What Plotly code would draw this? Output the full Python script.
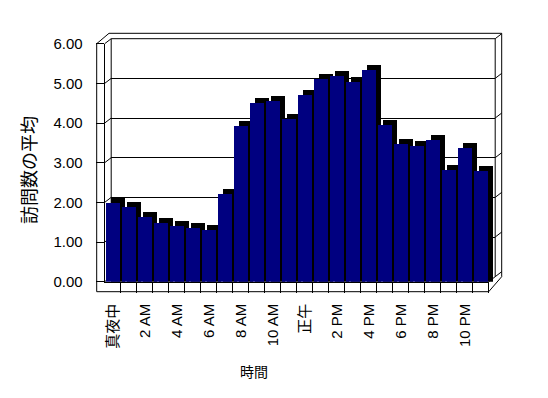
import plotly.graph_objects as go

# ---- data ----
hours = ["真夜中", "1 AM", "2 AM", "3 AM", "4 AM", "5 AM", "6 AM", "7 AM", "8 AM", "9 AM",
         "10 AM", "11 AM", "正午", "1 PM", "2 PM", "3 PM", "4 PM", "5 PM", "6 PM", "7 PM",
         "8 PM", "9 PM", "10 PM", "11 PM"]
avg_visits = [1.98, 1.88, 1.63, 1.48, 1.42, 1.35, 1.31, 2.21, 3.94, 4.52, 4.57, 4.11,
              4.72, 5.13, 5.19, 5.03, 5.34, 3.97, 3.48, 3.42, 3.59, 2.83, 3.37, 2.81]
y_ticks = [0, 1, 2, 3, 4, 5, 6]
x_title = "時間"
y_title = "訪問数の平均"

# ---- geometry (pixels, page coordinates) ----
PAGE_M = 8                   # default body margin of the html page
W, H = 548 - 2 * PAGE_M, 398 - 2 * PAGE_M
FX0, FX1 = 104.7, 488.7      # front plane category span
FY0, FY6 = 281.7, 43.7       # front plane y of 0 and 6
K = (FY0 - FY6) / 6.0        # px per unit
BDX, BDY = 6.5, -5.0         # back wall offset
SDX, SDY = 5.0, -5.0         # bar depth offset
OUT_L = 96.7
OUT_R = 501.7
OUT_T = 33.3
FLOOR_B = 291.7

def px(x):
    return (x - PAGE_M) / W

def py(y):
    return 1 - (y - PAGE_M) / H

idx = list(range(len(hours)))
xr = [-0.5, len(hours) - 0.5]
navy = "#000080"
font_fam = "Liberation Sans, Arial, Noto Sans CJK JP, sans-serif"

fig = go.Figure()

# back wall grid subplot (xy)
fig.add_trace(go.Scatter(x=[None], y=[None], xaxis="x", yaxis="y", showlegend=False, hoverinfo="skip"))
# bar depth (x2y2)
base_off = -SDY / K
fig.add_trace(go.Bar(x=idx, y=[v + base_off for v in avg_visits], base=-base_off,
                     xaxis="x2", yaxis="y2", width=0.84, marker=dict(color="black", line=dict(width=0)),
                     showlegend=False, hoverinfo="skip"))
# front bars (x3y3)
fig.add_trace(go.Bar(x=idx, y=avg_visits, xaxis="x3", yaxis="y3", width=0.84,
                     marker=dict(color=navy, line=dict(width=0)), showlegend=False))

fig.update_layout(
    width=W, height=H, margin=dict(l=0, r=0, t=0, b=0, autoexpand=False),
    paper_bgcolor="white", plot_bgcolor="rgba(0,0,0,0)",
    font=dict(family=font_fam, size=15, color="black"),
    bargap=0,
    xaxis=dict(domain=[px(FX0 + BDX), px(FX1 + BDX)], range=xr, anchor="y", visible=False,
               automargin=False),
    yaxis=dict(domain=[py(FY0 + BDY), py(FY6 + BDY)], range=[0, 6], anchor="x", dtick=1,
               showgrid=True, gridcolor="black", gridwidth=1, showticklabels=False,
               zeroline=False, showline=False, ticks="", automargin=False),
    xaxis2=dict(domain=[px(FX0 + SDX), px(FX1 + SDX)], range=xr, anchor="y2", visible=False,
                automargin=False),
    yaxis2=dict(domain=[py(FY0), py(FY6 + SDY)], range=[-base_off, 6], anchor="x2", visible=False,
                automargin=False),
    xaxis3=dict(domain=[px(FX0), px(FX1)], range=xr, anchor="y3", automargin=False,
                tickmode="array", tickvals=idx[::2], ticktext=hours[::2], tickangle=-90,
                ticks="", showline=True, linecolor="black", linewidth=1, showgrid=False,
                zeroline=False, ticklabelstandoff=15,
                minor=dict(tickmode="array", tickvals=[i + 0.5 for i in idx], ticks="outside",
                           ticklen=10, tickcolor="black", tickwidth=1, showgrid=False)),
    yaxis3=dict(domain=[py(FY0), py(FY6)], range=[0, 6], anchor="x3", automargin=False,
                tickmode="array", tickvals=y_ticks, tickformat=".2f",
                ticks="outside", ticklen=8, tickcolor="black", tickwidth=1,
                showline=True, linecolor="black", linewidth=1, showgrid=False, zeroline=False,
                ticklabelstandoff=10),
)

shapes = []
def line(x0, y0, x1, y1, layer="above"):
    shapes.append(dict(type="line", xref="paper", yref="paper", x0=px(x0), y0=py(y0),
                       x1=px(x1), y1=py(y1), line=dict(color="black", width=1), layer=layer))

# outer frame
line(OUT_L, FY6, OUT_L, FLOOR_B)
line(OUT_L, FLOOR_B, FX1, FLOOR_B)
line(FX1, FLOOR_B, OUT_R, FY0 + BDY)
line(OUT_R, FY0 + BDY, OUT_R, OUT_T)
line(109.0, OUT_T, OUT_R, OUT_T)
line(OUT_L, FY6, 109.0, OUT_T)
# back wall edges (behind bars)
line(FX0 + BDX, FY6 + BDY, FX0 + BDX, FY0 + BDY, "below")
line(FX1 + BDX, FY6 + BDY, FX1 + BDX, FY0 + BDY, "below")
line(FX0 + BDX, FY6 + BDY, FX1 + BDX, FY6 + BDY, "below")
line(FX1, FY0, FX1 + BDX, FY0 + BDY, "below")
# tick connectors
for v in y_ticks:
    yf = FY0 - v * K
    line(FX0, yf, FX0 + BDX, yf + BDY, "below")
    line(FX1 + BDX, yf + BDY, OUT_R, yf + 2 * BDY, "below")
fig.update_layout(shapes=shapes)

fig.add_annotation(text=y_title, xref="paper", yref="paper", x=px(30), y=py(170),
                   xanchor="center", yanchor="middle",
                   textangle=-90, showarrow=False, font=dict(size=18, family=font_fam))
fig.add_annotation(text=x_title, xref="paper", yref="paper", x=px(254), y=py(372),
                   xanchor="center", yanchor="middle",
                   showarrow=False, font=dict(size=14, family=font_fam))

fig.write_html("out.html")
